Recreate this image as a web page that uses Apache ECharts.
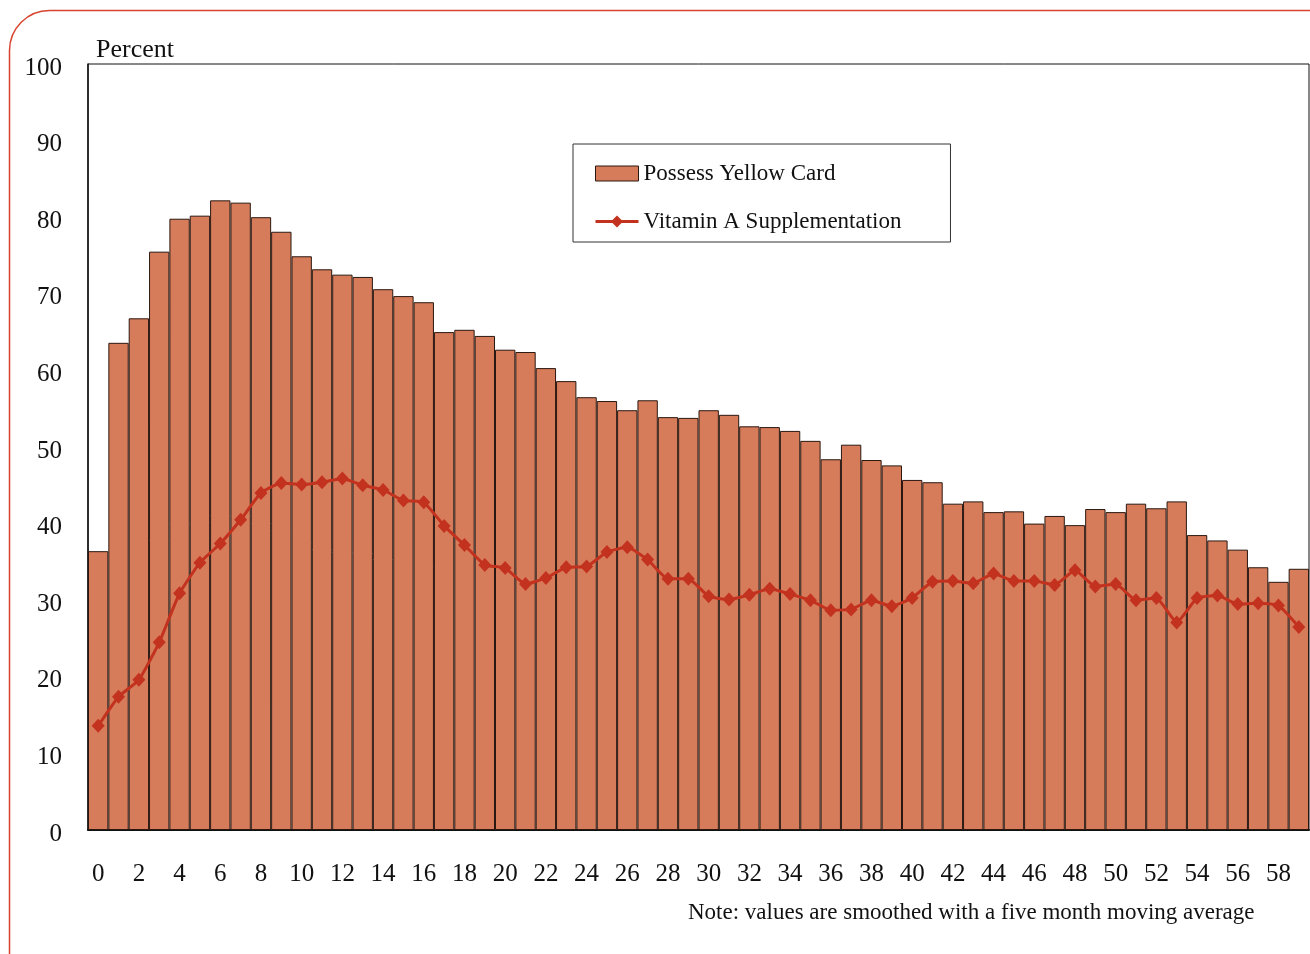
<!DOCTYPE html>
<html>
<head>
<meta charset="utf-8">
<title>Yellow card and Vitamin A by age in months</title>
<script src="https://cdn.jsdelivr.net/npm/echarts@6/dist/echarts.min.js"></script>
<style>
    html, body { margin: 0; padding: 0; background: #fff; }
    #chart_card_vita { width: 1310px; height: 954px; }
</style>
</head>
<body>
<div id="chart_card_vita"></div>
<script>

// Chart data
// ------------------------------

// Age in months (0 - 59)
var months = [];
for (var m = 0; m < 60; m++) { months.push(String(m)); }

var yTicks = [0, 10, 20, 30, 40, 50, 60, 70, 80, 90, 100];

// Possess Yellow Card (%)
var yellowCard = [
    36.4, 63.6, 66.8, 75.5, 79.8, 80.2, 82.2, 81.9, 80.0, 78.1,
    74.9, 73.2, 72.5, 72.2, 70.6, 69.7, 68.9, 65.0, 65.3, 64.5,
    62.7, 62.4, 60.3, 58.6, 56.5, 56.0, 54.8, 56.1, 53.9, 53.8,
    54.8, 54.2, 52.7, 52.6, 52.1, 50.8, 48.4, 50.3, 48.3, 47.6,
    45.7, 45.4, 42.6, 42.9, 41.5, 41.6, 40.0, 41.0, 39.8, 41.9,
    41.5, 42.6, 42.0, 42.9, 38.5, 37.8, 36.6, 34.3, 32.4, 34.1
];

// Vitamin A Supplementation (%)
var vitaminA = [
    13.6, 17.4, 19.6, 24.5, 30.9, 34.9, 37.4, 40.5, 44.0, 45.3,
    45.1, 45.4, 45.9, 45.0, 44.4, 43.0, 42.8, 39.7, 37.2, 34.6,
    34.2, 32.1, 32.9, 34.3, 34.4, 36.3, 36.9, 35.3, 32.8, 32.8,
    30.5, 30.1, 30.7, 31.5, 30.8, 30.0, 28.7, 28.8, 30.0, 29.2,
    30.3, 32.4, 32.5, 32.2, 33.5, 32.5, 32.5, 32.0, 33.9, 31.8,
    32.1, 30.0, 30.3, 27.1, 30.3, 30.6, 29.5, 29.6, 29.3, 26.5
];


// Setup module
// ------------------------------

var EchartsCardVitamin = function() {

    var _cardVitaminChart = function() {
        if (typeof echarts == 'undefined') {
            console.warn('Warning - echarts.min.js is not loaded.');
            return;
        }

        var chart_element = document.getElementById('chart_card_vita');
        if (!chart_element) return;

        var chart = echarts.init(chart_element, null, { renderer: 'canvas' });

        var fontFamily = '"Liberation Serif", "DejaVu Serif", serif';
        var barColor = '#D77C5B';
        var lineColor = '#C3321E';

        chart.setOption({

            animation: false,

            textStyle: {
                fontFamily: fontFamily,
                fontSize: 25,
                color: '#111'
            },

            // Rounded red frame + footnote
            graphic: [
                {
                    type: 'rect',
                    silent: true,
                    shape: { x: 9.5, y: 10.5, width: 1400, height: 1000, r: 40 },
                    style: { fill: 'none', stroke: '#D8432E', lineWidth: 1.5 }
                },
                {
                    type: 'text',
                    left: 688,
                    top: 901,
                    style: {
                        text: 'Note: values are smoothed with a five month moving average',
                        font: '23px ' + fontFamily,
                        fill: '#111'
                    }
                }
            ],

            // Plot area
            grid: {
                left: 88,
                right: 1,
                top: 64,
                bottom: 124,
                show: true,
                borderColor: '#111',
                borderWidth: 1,
                backgroundColor: 'transparent'
            },

            // Legend
            legend: {
                orient: 'vertical',
                left: 573,
                top: 144,
                padding: [18, 49, 9, 21],
                itemGap: 25,
                itemWidth: 43,
                itemHeight: 15,
                borderColor: '#333',
                borderWidth: 1,
                backgroundColor: '#fff',
                textStyle: {
                    fontFamily: fontFamily,
                    fontSize: 23,
                    color: '#111'
                },
                data: [
                    {
                        name: 'Possess Yellow Card',
                        icon: 'rect',
                        itemStyle: { color: barColor, borderColor: '#2a1810', borderWidth: 1 }
                    },
                    {
                        name: 'Vitamin A Supplementation',
                        lineStyle: { color: lineColor, width: 3 },
                        itemStyle: { color: lineColor }
                    }
                ]
            },

            // Horizontal axis
            xAxis: [{
                type: 'category',
                data: months,
                axisTick: { show: false },
                axisLine: { lineStyle: { color: '#111', width: 2 } },
                axisLabel: {
                    interval: 1,
                    margin: 32,
                    fontSize: 25,
                    color: '#111'
                },
                splitLine: { show: false }
            }],

            // Vertical axis
            yAxis: [{
                type: 'value',
                min: yTicks[0],
                max: yTicks[yTicks.length - 1],
                interval: 10,
                name: 'Percent',
                nameLocation: 'end',
                nameGap: 1,
                nameTextStyle: {
                    align: 'left',
                    verticalAlign: 'bottom',
                    fontSize: 26,
                    color: '#111',
                    padding: [0, 0, 0, 8]
                },
                axisTick: { show: false },
                axisLine: { show: true, lineStyle: { color: '#111', width: 1.5 } },
                axisLabel: {
                    margin: 26,
                    fontSize: 25,
                    color: '#111',
                    verticalAlign: 'top',
                    lineHeight: 8
                },
                splitLine: { show: false }
            }],

            // Series
            series: [
                {
                    name: 'Possess Yellow Card',
                    type: 'bar',
                    barCategoryGap: 0,
                    data: yellowCard,
                    itemStyle: {
                        color: barColor,
                        borderColor: '#2a1810',
                        borderWidth: 1
                    }
                },
                {
                    name: 'Vitamin A Supplementation',
                    type: 'line',
                    smooth: 0.15,
                    symbol: 'diamond',
                    symbolSize: [13, 14],
                    showAllSymbol: true,
                    data: vitaminA,
                    lineStyle: { color: lineColor, width: 3 },
                    itemStyle: { color: lineColor },
                    z: 3
                }
            ]
        });

        // Resize
        window.addEventListener('resize', function() {
            chart.resize();
        });
    };

    return {
        init: function() {
            _cardVitaminChart();
        }
    }
}();


// Initialize module
// ------------------------------

document.addEventListener('DOMContentLoaded', function() {
    EchartsCardVitamin.init();
});
</script>
</body>
</html>
